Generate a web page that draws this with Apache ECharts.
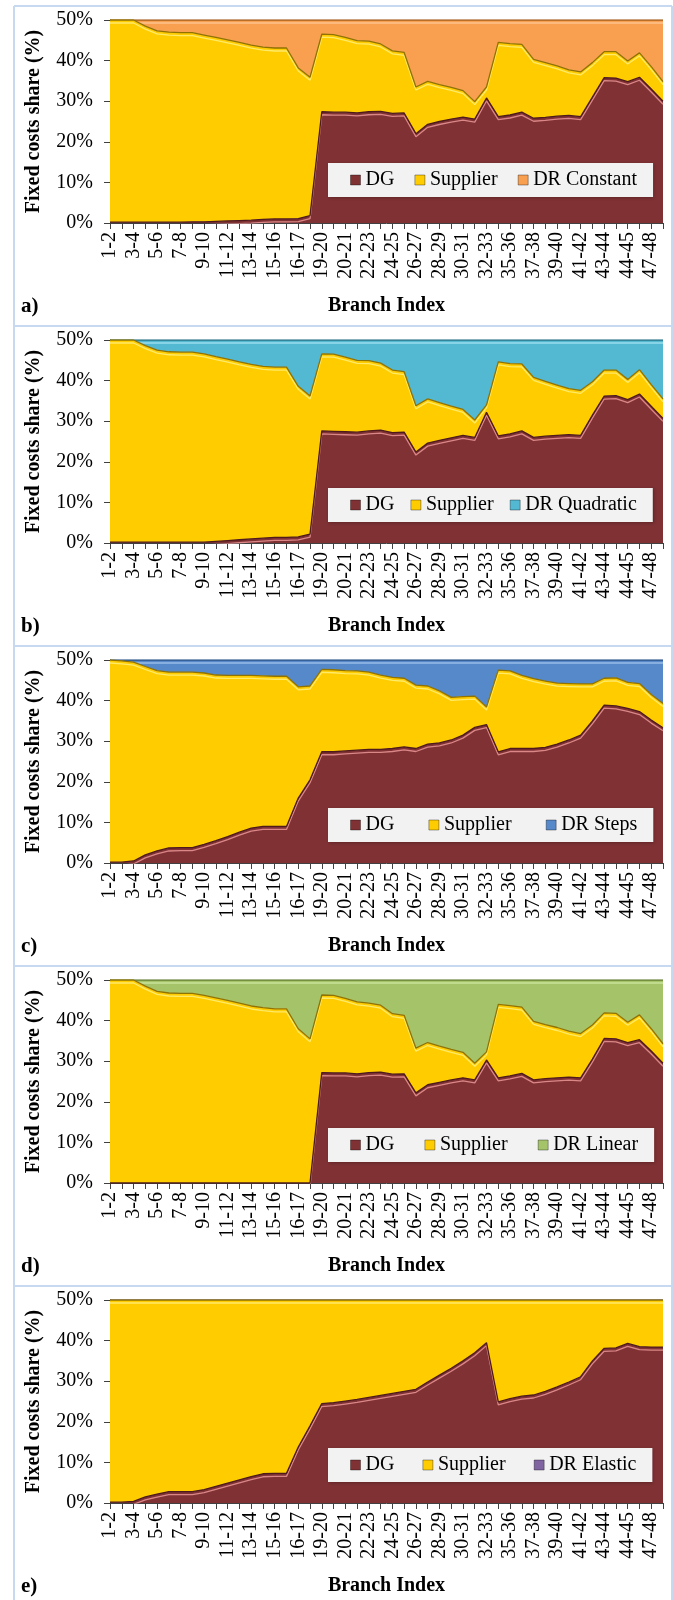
<!DOCTYPE html>
<html>
<head>
<meta charset="utf-8">
<script src="https://cdn.jsdelivr.net/npm/echarts@6/dist/echarts.min.js"></script>
<style>
html,body{margin:0;padding:0;background:#fff;}
#chart{width:673px;height:1600px;}
</style>
</head>
<body>
<div id="chart"></div>
<script>
// ---------- data ----------
const categories = ['1-2','2-3','3-4','4-5','5-6','6-7','7-8','8-9','9-10','10-11','11-12','12-13','13-14','14-15','15-16','2-19','16-17','18-19','19-20','3-23','20-21','21-22','22-23','23-24','24-25','6-26','26-27','27-28','28-29','29-30','30-31','31-32','32-33','34-35','35-36','36-37','37-38','38-39','39-40','40-41','41-42','42-43','43-44','43-46','44-45','45-46','47-48','46-47'];
const yTicks = [0, 10, 20, 30, 40, 50];
const panelLetters = ['a)', 'b)', 'c)', 'd)', 'e)'];
const seriesNames = ['DG', 'Supplier'];
const drNames = ['DR Constant', 'DR Quadratic', 'DR Steps', 'DR Linear', 'DR Elastic'];

// panel a) DR Constant
const dgA  = [0.2,0.2,0.2,0.2,0.2,0.2,0.2,0.3,0.3,0.4,0.5,0.6,0.7,0.9,1.0,1.0,1.1,1.8,27.4,27.3,27.3,27.1,27.4,27.5,27.0,27.1,22.0,24.3,25.0,25.6,26.1,25.6,30.8,26.2,26.6,27.3,25.8,26.0,26.3,26.5,26.2,31.0,35.8,35.7,34.8,35.9,33.0,30.0];
const supA = [49.8,49.8,49.8,48.3,47.1,46.8,46.7,46.6,46.0,45.3,44.6,43.9,43.1,42.4,42.1,42.1,37.1,34.1,19.1,19.1,18.4,17.8,17.4,16.6,15.4,14.9,11.5,10.6,9.1,7.8,6.5,4.3,2.7,18.3,17.6,16.7,14.5,13.5,12.4,11.2,11.0,8.5,6.4,6.5,5.1,6.0,5.5,4.8];
const drA  = [0,0,0,1.5,2.7,3.0,3.1,3.1,3.7,4.3,4.9,5.5,6.2,6.7,6.9,6.9,11.8,14.1,3.5,3.6,4.3,5.1,5.2,5.9,7.6,8.0,16.5,15.1,15.9,16.6,17.4,20.1,16.5,5.5,5.8,6.0,9.7,10.5,11.3,12.3,12.8,10.5,7.8,7.8,10.1,8.1,11.5,15.2];

// panel b) DR Quadratic
const dgB  = [0.2,0.2,0.2,0.2,0.2,0.2,0.2,0.2,0.2,0.4,0.6,0.8,1.0,1.2,1.4,1.4,1.5,2.2,27.6,27.5,27.4,27.3,27.6,27.8,27.2,27.3,22.4,24.6,25.3,25.9,26.5,26.0,32.2,26.4,26.9,27.6,26.0,26.3,26.5,26.7,26.5,31.5,36.2,36.3,35.3,36.7,33.7,30.7];
const supB = [49.8,49.8,49.8,48.4,47.3,46.9,46.8,46.8,46.4,45.5,44.7,43.8,43.0,42.3,41.9,41.9,37.1,34.0,19.0,19.0,18.4,17.7,17.3,16.5,15.4,14.9,11.4,10.9,9.3,7.8,6.4,4.3,1.8,18.2,17.3,16.5,14.8,13.5,12.4,11.3,11.1,8.2,6.4,6.3,5.0,6.0,5.3,4.8];
const drB  = [0,0,0,1.4,2.5,2.9,3.0,3.0,3.4,4.1,4.7,5.4,6.0,6.5,6.7,6.7,11.4,13.8,3.4,3.5,4.2,5.0,5.1,5.7,7.4,7.8,16.2,14.5,15.4,16.3,17.1,19.7,16.0,5.4,5.8,5.9,9.2,10.2,11.1,12.0,12.4,10.3,7.4,7.4,9.7,7.3,11.0,14.5];

// panel c) DR Steps
const dgC  = [0.2,0.2,0.5,2.0,3.0,3.7,3.8,3.8,4.6,5.5,6.5,7.6,8.6,9.0,9.0,9.0,16.0,20.5,27.4,27.4,27.6,27.8,28.0,28.0,28.2,28.6,28.2,29.3,29.6,30.3,31.5,33.4,34.1,27.4,28.2,28.2,28.2,28.5,29.3,30.3,31.5,35.0,38.9,38.7,38.1,37.3,35.2,33.3];
const supC = [49.8,49.6,49.0,46.4,44.4,43.3,43.2,43.2,42.2,40.8,39.7,38.6,37.6,37.1,37.0,37.0,27.4,23.1,20.3,20.2,19.8,19.5,19.0,18.3,17.5,16.9,15.6,14.3,12.8,10.5,9.5,7.7,4.3,20.1,19.1,18.0,17.2,16.3,15.0,13.9,12.6,9.1,6.6,6.9,6.4,6.9,6.3,6.0];
const drC  = [0,0.2,0.5,1.6,2.6,3.0,3.0,3.0,3.2,3.7,3.8,3.8,3.8,3.9,4.0,4.0,6.6,6.4,2.3,2.4,2.6,2.7,3.0,3.7,4.3,4.5,6.2,6.4,7.6,9.2,9.0,8.9,11.6,2.5,2.7,3.8,4.6,5.2,5.7,5.8,5.9,5.9,4.5,4.4,5.5,5.8,8.5,10.7];

// panel d) DR Linear
const dgD  = [0,0,0,0,0,0,0,0,0,0,0,0,0,0,0,0,0,0,27.2,27.1,27.1,26.9,27.2,27.3,26.8,26.9,22.2,24.2,24.8,25.4,25.9,25.4,30.3,25.9,26.4,27.0,25.4,25.7,25.9,26.1,25.9,30.5,35.6,35.5,34.6,35.3,32.5,29.5];
const supD = [50,50,50,48.5,47.2,46.8,46.7,46.7,46.2,45.6,45.0,44.3,43.6,43.2,42.9,42.9,38.0,35.5,19.1,19.1,18.4,17.7,17.1,16.5,14.9,14.4,11.0,10.4,8.9,7.5,6.3,4.1,2.0,18.1,17.3,16.3,14.4,13.3,12.4,11.3,10.9,8.4,6.3,6.3,5.0,6.1,5.5,4.8];
const drD  = [0,0,0,1.5,2.8,3.2,3.3,3.3,3.8,4.4,5.0,5.7,6.4,6.8,7.1,7.1,12.0,14.5,3.7,3.8,4.5,5.4,5.7,6.2,8.3,8.7,16.8,15.4,16.3,17.1,17.8,20.5,17.7,6.0,6.3,6.7,10.2,11.0,11.7,12.6,13.2,11.1,8.1,8.2,10.4,8.6,12.0,15.7];

// panel e) DR Elastic
const dgE  = [0.2,0.2,0.4,1.5,2.2,2.8,2.8,2.8,3.3,4.1,4.9,5.7,6.5,7.2,7.3,7.3,13.8,19.0,24.5,24.7,25.1,25.5,26.0,26.5,27.0,27.5,28.0,29.8,31.5,33.2,35.0,37.0,39.5,24.9,25.7,26.3,26.6,27.5,28.6,29.8,31.1,35.0,38.1,38.2,39.3,38.5,38.4,38.4];
const supE = [49.8,49.8,49.6,48.5,47.8,47.2,47.2,47.2,46.7,45.9,45.1,44.3,43.5,42.8,42.7,42.7,36.2,31.0,25.5,25.3,24.9,24.5,24.0,23.5,23.0,22.5,22.0,20.2,18.5,16.8,15.0,13.0,10.5,25.1,24.3,23.7,23.4,22.5,21.4,20.2,18.9,15.0,11.9,11.8,10.7,11.5,11.6,11.6];
const drE  = [0,0,0,0,0,0,0,0,0,0,0,0,0,0,0,0,0,0,0,0,0,0,0,0,0,0,0,0,0,0,0,0,0,0,0,0,0,0,0,0,0,0,0,0,0,0,0,0];

const panels = [
  {dg: dgA, sup: supA, dr: drA},
  {dg: dgB, sup: supB, dr: drB},
  {dg: dgC, sup: supC, dr: drC},
  {dg: dgD, sup: supD, dr: drD},
  {dg: dgE, sup: supE, dr: drE}
];

// ---------- styles ----------
const FONT = '"Liberation Serif", "Times New Roman", serif';
const dgStyle  = {fill: '#7f3134', edge: '#4e1a1c', hi: 'rgba(235,150,150,0.85)'};
const supStyle = {fill: '#ffcc00', edge: '#8f7200', hi: 'rgba(255,236,110,0.95)'};
const drStyles = [
  {fill: '#f8a050', edge: '#a45e1c', hi: 'rgba(255,200,150,0.9)'},
  {fill: '#53b8d2', edge: '#2a7488', hi: 'rgba(160,225,240,0.9)'},
  {fill: '#5589c9', edge: '#2c5488', hi: 'rgba(160,195,235,0.9)'},
  {fill: '#a5c46a', edge: '#667f34', hi: 'rgba(205,230,160,0.9)'},
  {fill: '#8064a2', edge: '#4c3a66', hi: 'rgba(190,170,220,0.9)'}
];
const legendGaps = [20, 16, 34, 30, 28];

const PITCH = 320;
const option = {
  animation: false,
  backgroundColor: '#ffffff',
  grid: [], xAxis: [], yAxis: [], series: [], legend: [], graphic: []
};

function mkSeries(name, data, st, k, z) {
  return {
    name: name, type: 'line', stack: 'p' + k,
    xAxisIndex: k, yAxisIndex: k,
    data: data, symbol: 'none', showSymbol: false, z: z,
    itemStyle: {color: st.fill},
    lineStyle: {color: st.edge, width: 1.3, shadowColor: st.hi, shadowBlur: 0, shadowOffsetY: 3},
    areaStyle: {color: st.fill, opacity: 1}
  };
}

panels.forEach((p, k) => {
  const top = 20 + PITCH * k;
  option.grid.push({left: 110, top: top, width: 553, height: 203});
  option.xAxis.push({
    type: 'category', gridIndex: k, data: categories, boundaryGap: false,
    name: 'Branch Index', nameLocation: 'middle', nameGap: 73,
    nameTextStyle: {fontFamily: FONT, fontSize: 20, fontWeight: 'bold', color: '#000'},
    axisLine: {show: true, lineStyle: {color: '#404040', width: 1}},
    axisTick: {show: true, interval: 0, length: 6, lineStyle: {color: '#404040'}},
    axisLabel: {interval: 1, rotate: 90, margin: 9, fontFamily: FONT, fontSize: 20, color: '#000'},
    splitLine: {show: false}
  });
  option.yAxis.push({
    type: 'value', gridIndex: k, min: yTicks[0], max: yTicks[yTicks.length - 1], interval: 10,
    name: 'Fixed costs share (%)', nameLocation: 'middle', nameGap: 66,
    nameTextStyle: {fontFamily: FONT, fontSize: 20, fontWeight: 'bold', color: '#000'},
    axisLine: {show: true, lineStyle: {color: '#404040', width: 1}},
    axisTick: {show: true, length: 6, lineStyle: {color: '#404040'}},
    axisLabel: {formatter: '{value}%', margin: 17, fontFamily: FONT, fontSize: 20, color: '#000'},
    splitLine: {show: false}
  });
  const drSt = drStyles[k];
  option.series.push(mkSeries(seriesNames[0], p.dg, dgStyle, k, 3));
  option.series.push(mkSeries(seriesNames[1], p.sup, supStyle, k, 2));
  option.series.push(mkSeries(drNames[k], p.dr, drSt, k, 1));
  option.legend.push({
    left: 328, top: (k === 0 ? 163 : 168) + PITCH * k,
    orient: 'horizontal',
    data: [seriesNames[0], seriesNames[1], drNames[k]],
    icon: 'rect', itemWidth: 10, itemHeight: 10, itemGap: legendGaps[k],
    padding: [7, 16, 7, 22],
    backgroundColor: '#f2f2f2',
    shadowColor: 'rgba(0,0,0,0.25)', shadowBlur: 3, shadowOffsetX: 1, shadowOffsetY: 1,
    textStyle: {fontFamily: FONT, fontSize: 20, color: '#000'},
    itemStyle: {borderColor: 'rgba(0,0,0,0.35)', borderWidth: 1}
  });
  // panel frame (top line) and letter
  option.graphic.push({
    type: 'line', shape: {x1: 14, y1: 6 + PITCH * k, x2: 672, y2: 6 + PITCH * k},
    style: {stroke: '#c6d9f1', lineWidth: 2}, silent: true
  });
  option.graphic.push({
    type: 'text', left: 21, top: 296 + PITCH * k,
    style: {text: panelLetters[k], font: 'bold 21px ' + FONT, fill: '#000'}, silent: true
  });
});
option.graphic.push({type: 'line', shape: {x1: 14, y1: 6, x2: 14, y2: 1600}, style: {stroke: '#c6d9f1', lineWidth: 2}, silent: true});
option.graphic.push({type: 'line', shape: {x1: 672, y1: 6, x2: 672, y2: 1600}, style: {stroke: '#c6d9f1', lineWidth: 2}, silent: true});

const chart = echarts.init(document.getElementById('chart'), null, {renderer: 'canvas'});
chart.setOption(option);
</script>
</body>
</html>
